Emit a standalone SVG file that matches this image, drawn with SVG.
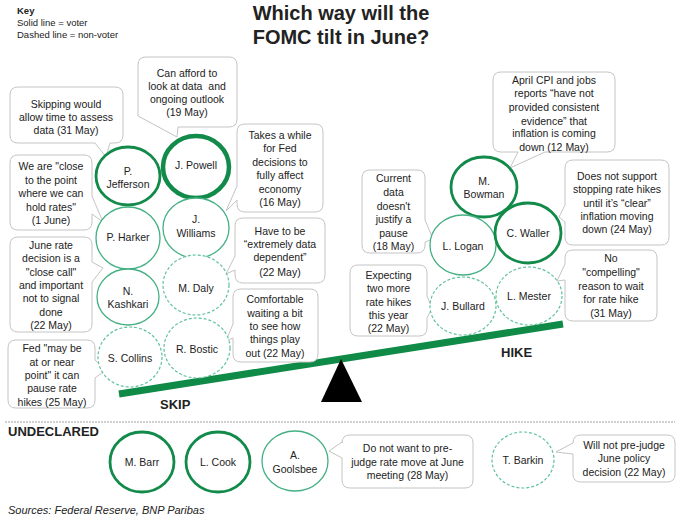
<svg xmlns="http://www.w3.org/2000/svg" width="680" height="521" viewBox="0 0 680 521">
<style>
text{font-family:"Liberation Sans",Arial,sans-serif;fill:#222;}
.t{font-size:10.5px;text-anchor:middle;}
.n{font-size:10.5px;text-anchor:middle;}
.co{fill:#fff;stroke:#c4c4c4;stroke-width:1;}
.vt{fill:#fff;stroke:#118a4a;stroke-width:2.8;}
.vp{fill:#fff;stroke:#118a4a;stroke-width:4.5;}
.vs{fill:#fff;stroke:#45b083;stroke-width:1.3;}
.nv{fill:#fff;stroke:#5fc29d;stroke-width:1.2;stroke-dasharray:3 2;}
.lbl{font-size:13px;font-weight:bold;}
</style>
<rect width="680" height="521" fill="#fff"/>
<g id="title">
<text x="341" y="20" style="font-size:20px;font-weight:bold;text-anchor:middle" fill="#111">Which way will the</text>
<text x="341" y="44" style="font-size:20px;font-weight:bold;text-anchor:middle" fill="#111">FOMC tilt in June?</text>
</g>
<g id="key" style="font-size:9.5px">
<text x="17" y="14" style="font-weight:bold">Key</text>
<text x="17" y="26">Solid line = voter</text>
<text x="17" y="38">Dashed line = non-voter</text>
</g>
<g id="seesaw">
<line x1="119" y1="394" x2="563" y2="324" stroke="#0f8a47" stroke-width="7"/>
<polygon points="341,359 321,402 362,402" fill="#000"/>
<text x="160" y="409" class="lbl">SKIP</text>
<text x="501" y="357" class="lbl">HIKE</text>
</g>
<g id="connectors"></g>
<g id="callout-jefferson">
<path class="co" d="M18,87 H115 Q123,87 123,95 V135 Q123,143 115,143 H110 L106,157 L95,143 H18 Q10,143 10,135 V95 Q10,87 18,87 Z"/>
<text class="t" x="66" y="108">Skipping would</text>
<text class="t" x="66" y="121">allow time to assess</text>
<text class="t" x="66" y="134">data (31 May)</text>
</g>
<g id="callout-powell">
<path class="co" d="M146,57 H229 Q237,57 237,65 V119 Q237,127 229,127 H178 L177,137 L138,116 V65 Q138,57 146,57 Z"/>
<text class="t" x="187" y="77">Can afford to</text>
<text class="t" x="187" y="90" xml:space="preserve">look at data  and</text>
<text class="t" x="187" y="103">ongoing outlook</text>
<text class="t" x="187" y="116">(19 May)</text>
</g>
<g id="callout-harker">
<path class="co" d="M18,155 H84 Q92,155 92,163 V196 L103,222 L92,214 V222 Q92,230 84,230 H18 Q10,230 10,222 V163 Q10,155 18,155 Z"/>
<text class="t" x="51" y="170">We are "close</text>
<text class="t" x="51" y="184">to the point</text>
<text class="t" x="51" y="197">where we can</text>
<text class="t" x="51" y="211">hold rates"</text>
<text class="t" x="51" y="224">(1 June)</text>
</g>
<g id="callout-kashkari">
<path class="co" d="M18,237 H84 Q92,237 92,245 V262 L103,268 L92,282 V324 Q92,332 84,332 H18 Q10,332 10,324 V245 Q10,237 18,237 Z"/>
<text class="t" x="51" y="249">June rate</text>
<text class="t" x="51" y="262">decision is a</text>
<text class="t" x="51" y="276">"close call"</text>
<text class="t" x="51" y="289">and important</text>
<text class="t" x="51" y="302">not to signal</text>
<text class="t" x="51" y="316">done</text>
<text class="t" x="51" y="329">(22 May)</text>
</g>
<g id="callout-collins">
<path class="co" d="M16,340 H87 Q95,340 95,348 V360 L106,370 L95,378 V400 Q95,408 87,408 H16 Q8,408 8,400 V348 Q8,340 16,340 Z"/>
<text class="t" x="52" y="352">Fed "may be</text>
<text class="t" x="52" y="366">at or near</text>
<text class="t" x="52" y="379">point" it can</text>
<text class="t" x="52" y="392">pause rate</text>
<text class="t" x="52" y="406">hikes (25 May)</text>
</g>
<g id="callout-williams">
<path class="co" d="M245,124 H315 Q323,124 323,132 V204 Q323,212 315,212 H245 Q237,212 237,204 V200 L226,211 L237,186 V132 Q237,124 245,124 Z"/>
<text class="t" x="280" y="139">Takes a while</text>
<text class="t" x="280" y="152">for Fed</text>
<text class="t" x="280" y="166">decisions to</text>
<text class="t" x="280" y="179">fully affect</text>
<text class="t" x="280" y="193">economy</text>
<text class="t" x="280" y="206">(16 May)</text>
</g>
<g id="callout-daly">
<path class="co" d="M243,218 H317 Q325,218 325,226 V275 Q325,283 317,283 H243 Q235,283 235,275 V270 L226,274 L235,256 V226 Q235,218 243,218 Z"/>
<text class="t" x="280" y="235">Have to be</text>
<text class="t" x="280" y="248">“extremely data</text>
<text class="t" x="280" y="261">dependent”</text>
<text class="t" x="280" y="276">(22 May)</text>
</g>
<g id="callout-bostic">
<path class="co" d="M241,289 H310 Q318,289 318,297 V354 Q318,362 310,362 H241 Q233,362 233,354 V338 L226,341 L233,324 V297 Q233,289 241,289 Z"/>
<text class="t" x="275" y="303">Comfortable</text>
<text class="t" x="275" y="317">waiting a bit</text>
<text class="t" x="275" y="330">to see how</text>
<text class="t" x="275" y="343">things play</text>
<text class="t" x="275" y="357">out (22 May)</text>
</g>
<g id="callout-bowman">
<path class="co" d="M501,72 H607 Q615,72 615,80 V144 Q615,152 607,152 H545 L510,168 L518,152 H501 Q493,152 493,144 V80 Q493,72 501,72 Z"/>
<text class="t" x="554" y="84">April CPI and jobs</text>
<text class="t" x="554" y="97">reports “have not</text>
<text class="t" x="554" y="111">provided consistent</text>
<text class="t" x="554" y="125">evidence” that</text>
<text class="t" x="554" y="137">inflation is coming</text>
<text class="t" x="554" y="151">down (12 May)</text>
</g>
<g id="callout-waller">
<path class="co" d="M573,160 H661 Q669,160 669,168 V237 Q669,245 661,245 H573 Q565,245 565,237 V222 L559,217 L565,205 V168 Q565,160 573,160 Z"/>
<text class="t" x="617" y="180">Does not support</text>
<text class="t" x="617" y="193">stopping rate hikes</text>
<text class="t" x="617" y="207">until it’s “clear”</text>
<text class="t" x="617" y="220">inflation moving</text>
<text class="t" x="617" y="233">down (24 May)</text>
</g>
<g id="callout-logan">
<path class="co" d="M370,170 H417 Q425,170 425,178 V220 L433,239 L425,242 V245 Q425,253 417,253 H370 Q362,253 362,245 V178 Q362,170 370,170 Z"/>
<text class="t" x="393.5" y="182">Current</text>
<text class="t" x="393.5" y="196">data</text>
<text class="t" x="393.5" y="210">doesn't</text>
<text class="t" x="393.5" y="223">justify a</text>
<text class="t" x="393.5" y="237">pause</text>
<text class="t" x="393.5" y="250">(18 May)</text>
</g>
<g id="callout-bullard">
<path class="co" d="M358,265 H419 Q427,265 427,273 V296 L432,308 L427,318 V328 Q427,336 419,336 H358 Q350,336 350,328 V273 Q350,265 358,265 Z"/>
<text class="t" x="388.5" y="279">Expecting</text>
<text class="t" x="388.5" y="292">two more</text>
<text class="t" x="388.5" y="306">rate hikes</text>
<text class="t" x="388.5" y="319">this year</text>
<text class="t" x="388.5" y="332">(22 May)</text>
</g>
<g id="callout-mester">
<path class="co" d="M573,250 H649 Q657,250 657,258 V313 Q657,321 649,321 H573 Q565,321 565,313 V280 L557,281 L565,264 V258 Q565,250 573,250 Z"/>
<text class="t" x="611" y="262">No</text>
<text class="t" x="611" y="276">"compelling"</text>
<text class="t" x="611" y="290">reason to wait</text>
<text class="t" x="611" y="303">for rate hike</text>
<text class="t" x="611" y="317">(31 May)</text>
</g>
<g id="callout-goolsbee">
<path class="co" d="M350,435 H465 Q473,435 473,443 V480 Q473,488 465,488 H350 Q342,488 342,480 V458 L329,451 L342,442 V443 Q342,435 350,435 Z"/>
<text class="t" x="407.5" y="452">Do not want to pre-</text>
<text class="t" x="407.5" y="466">judge rate move at June</text>
<text class="t" x="407.5" y="479">meeting (28 May)</text>
</g>
<g id="callout-barkin">
<path class="co" d="M581,435 H667 Q675,435 675,443 V474 Q675,482 667,482 H581 Q573,482 573,474 V454 L556,452 L573,443 Q573,435 581,435 Z"/>
<text class="t" x="624" y="449">Will not pre-judge</text>
<text class="t" x="624" y="462">June policy</text>
<text class="t" x="624" y="476">decision (22 May)</text>
</g>
<g id="node-jefferson"><ellipse class="vt" cx="128" cy="176" rx="32" ry="29"/><text class="n" x="128" y="175">P.</text><text class="n" x="128" y="188">Jefferson</text></g>
<g id="node-powell"><ellipse class="vp" cx="196" cy="167" rx="33" ry="31"/><text class="n" x="196" y="169">J. Powell</text></g>
<g id="node-harker"><ellipse class="vs" cx="128" cy="238" rx="32" ry="31"/><text class="n" x="128" y="241">P. Harker</text></g>
<g id="node-williams"><ellipse class="vs" cx="196" cy="228" rx="33" ry="30"/><text class="n" x="196" y="223">J.</text><text class="n" x="196" y="237">Williams</text></g>
<g id="node-kashkari"><ellipse class="vs" cx="128" cy="297" rx="31" ry="28"/><text class="n" x="128" y="295">N.</text><text class="n" x="128" y="308">Kashkari</text></g>
<g id="node-daly"><ellipse class="nv" cx="196" cy="285" rx="33" ry="30"/><text class="n" x="196" y="292">M. Daly</text></g>
<g id="node-collins"><ellipse class="nv" cx="130" cy="357" rx="32" ry="30"/><text class="n" x="130" y="362">S. Collins</text></g>
<g id="node-bostic"><ellipse class="nv" cx="197" cy="348" rx="33" ry="30"/><text class="n" x="197" y="353">R. Bostic</text></g>
<g id="node-bowman"><ellipse class="vt" cx="484" cy="187" rx="33" ry="30"/><text class="n" x="484" y="185">M.</text><text class="n" x="484" y="198">Bowman</text></g>
<g id="node-logan"><ellipse class="vs" cx="463" cy="245" rx="33" ry="30"/><text class="n" x="463" y="250">L. Logan</text></g>
<g id="node-waller"><ellipse class="vt" cx="528" cy="233" rx="33" ry="30"/><text class="n" x="528" y="237">C. Waller</text></g>
<g id="node-bullard"><ellipse class="nv" cx="463" cy="306" rx="33" ry="29"/><text class="n" x="463" y="310">J. Bullard</text></g>
<g id="node-mester"><ellipse class="nv" cx="529" cy="296" rx="33" ry="29"/><text class="n" x="529" y="300">L. Mester</text></g>
<g id="undeclared">
<line x1="5" y1="422" x2="675" y2="422" stroke="#888" stroke-width="0.8" stroke-dasharray="2 1"/>
<text x="8" y="436" class="lbl">UNDECLARED</text>
</g>
<g id="node-barr"><ellipse class="vt" cx="142" cy="462" rx="32" ry="30"/><text class="n" x="142" y="466">M. Barr</text></g>
<g id="node-cook"><ellipse class="vt" cx="218" cy="462" rx="32" ry="30"/><text class="n" x="218" y="466">L. Cook</text></g>
<g id="node-goolsbee"><ellipse class="vs" cx="295" cy="461" rx="33" ry="30"/><text class="n" x="295" y="459">A.</text><text class="n" x="295" y="473">Goolsbee</text></g>
<g id="node-barkin"><ellipse class="nv" cx="523" cy="460" rx="31" ry="28"/><text class="n" x="523" y="464">T. Barkin</text></g>
<g id="sources"><text x="8" y="514" style="font-size:11px;font-style:italic">Sources: Federal Reserve, BNP Paribas</text></g>
</svg>
